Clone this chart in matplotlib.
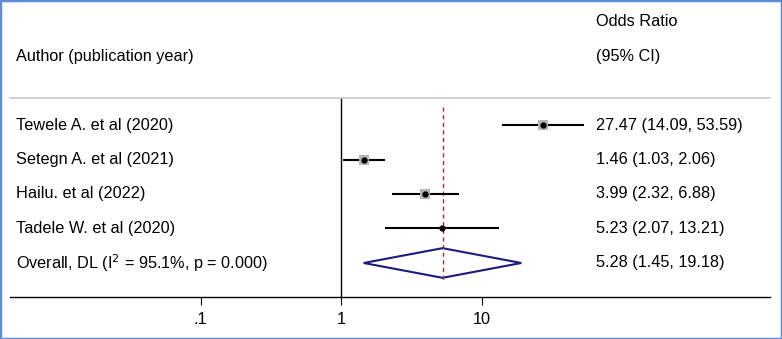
import numpy as np
import matplotlib.pyplot as plt
from matplotlib.patches import Polygon, Rectangle

plt.rcParams['font.family'] = ['Liberation Sans', 'DejaVu Sans']

studies = ["Tewele A. et al (2020)", "Setegn A. et al (2021)",
           "Hailu. et al (2022)", "Tadele W. et al (2020)"]
odds = [27.47, 1.46, 3.99, 5.23]
lower = [14.09, 1.03, 2.32, 2.07]
upper = [53.59, 2.06, 6.88, 13.21]
box_size = [7, 7, 7, 3]  # gray weight boxes, points
overall = (5.28, 1.45, 19.18)
overall_label = "Overall, DL (I$^2$ = 95.1%, p = 0.000)"
ticks = [0.1, 1, 10]
tick_labels = [".1", "1", "10"]

W, H = 782, 339
FS = 11.7
fig = plt.figure(figsize=(W / 100, H / 100), dpi=100)
fig.patches.append(Rectangle((0, 0), 1, 1, transform=fig.transFigure,
                             fill=False, edgecolor='#5b8fd6', linewidth=2.5))

# axes from the grey line (y=98) down to the scale (y=297), x 10..770 px
ax = fig.add_axes([10 / W, (H - 297) / H, 760 / W, (297 - 98) / H])
ax.set_xscale('log')
ax.set_xlim(10 ** -2.356, 10 ** 3.053)
ax.set_ylim(4.986, -0.783)

for s in ['left', 'right']:
    ax.spines[s].set_visible(False)
ax.spines['top'].set_color('#c8c8c8')
ax.spines['top'].set_linewidth(1.2)
ax.spines['bottom'].set_linewidth(1.0)
ax.set_yticks([])
ax.set_xticks(ticks)
ax.set_xticklabels(tick_labels, fontsize=FS)
ax.minorticks_off()
ax.tick_params(axis='x', direction='out', length=6, width=0.8, pad=5)

ax.axvline(1, color='black', linewidth=1.0)
ax.plot([overall[0], overall[0]], [-0.53, 4.5], color='#a03030',
        linestyle=(0, (3, 2.5)), linewidth=1.0)

left_x = (16 - 10) / 760
right_x = (596 - 10) / 760
tr = ax.get_yaxis_transform()

for i in range(len(studies)):
    ax.plot([lower[i], upper[i]], [i, i], color='black', linewidth=1.5,
            solid_capstyle='butt')
    ax.plot(odds[i], i, marker='s', markersize=box_size[i], color='#b4b4b4',
            markeredgewidth=0)
    ax.plot(odds[i], i, marker='o', markersize=3.5, color='black')
    ax.text(left_x, i, studies[i], transform=tr, fontsize=FS, va='center')
    ax.text(right_x, i, f"{odds[i]:.2f} ({lower[i]:.2f}, {upper[i]:.2f})",
            transform=tr, fontsize=FS, va='center')

y4 = len(studies)
est, lo, hi = overall
diamond = Polygon([[lo, y4], [est, y4 - 0.43], [hi, y4], [est, y4 + 0.43]],
                  closed=True, fill=False, edgecolor='#1a1a80', linewidth=1.5)
ax.add_patch(diamond)
ax.text(left_x, y4, overall_label, transform=tr, fontsize=FS, va='center')
ax.text(right_x, y4, f"{est:.2f} ({lo:.2f}, {hi:.2f})",
        transform=tr, fontsize=FS, va='center')

fig.text(16 / W, 1 - 57 / H, "Author (publication year)", fontsize=FS, va='center')
fig.text(596 / W, 1 - 22 / H, "Odds Ratio", fontsize=FS, va='center')
fig.text(596 / W, 1 - 57 / H, "(95% CI)", fontsize=FS, va='center')

fig.savefig("out.png", dpi=100)
